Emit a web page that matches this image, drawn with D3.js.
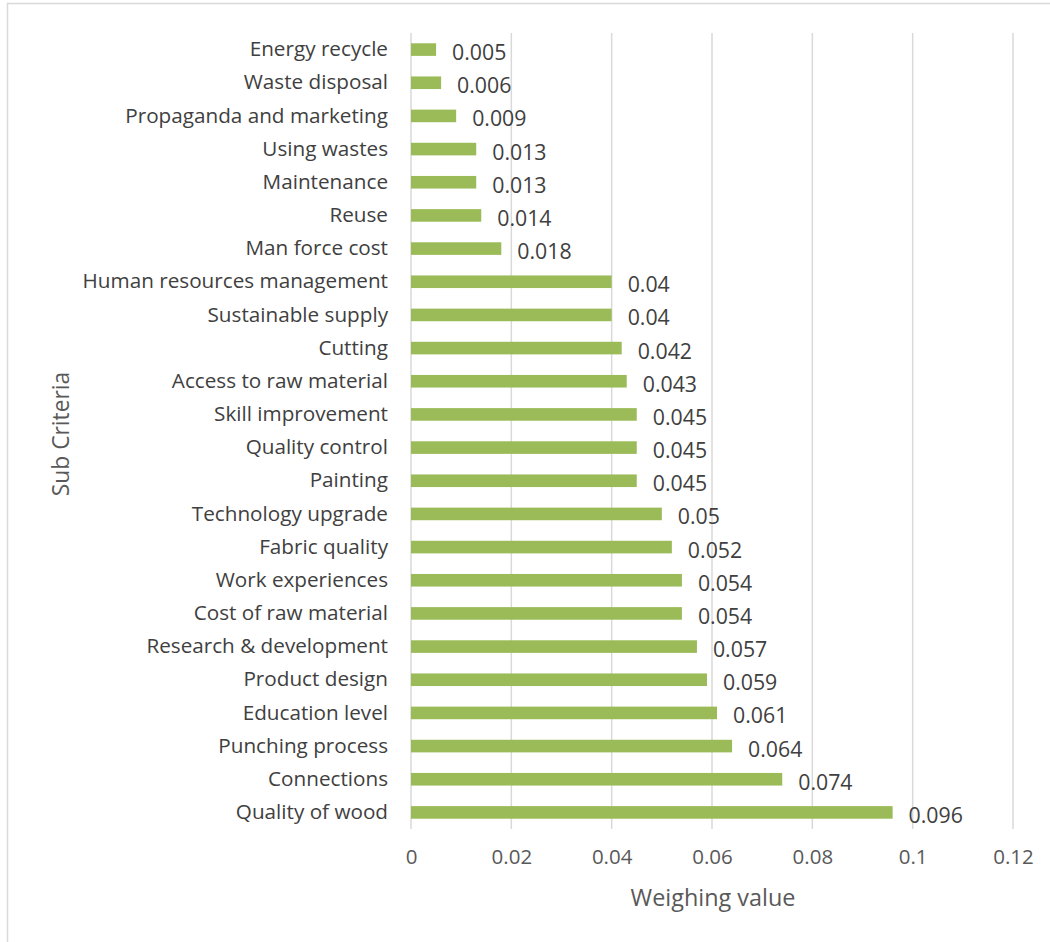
<!DOCTYPE html>
<html>
<head>
<meta charset="utf-8">
<script src="https://cdn.jsdelivr.net/npm/d3@7/dist/d3.min.js"></script>
<style>
  html, body { margin: 0; padding: 0; background: #fff; }
  svg { display: block; }
  text { font-family: "Open Sans", "Noto Sans", sans-serif; }
</style>
</head>
<body>
<div id="chart"></div>
<script>
// Sub-criteria weights, listed top to bottom
const categories = [
  "Energy recycle", "Waste disposal", "Propaganda and marketing", "Using wastes",
  "Maintenance", "Reuse", "Man force cost", "Human resources management",
  "Sustainable supply", "Cutting", "Access to raw material", "Skill improvement",
  "Quality control", "Painting", "Technology upgrade", "Fabric quality",
  "Work experiences", "Cost of raw material", "Research & development", "Product design",
  "Education level", "Punching process", "Connections", "Quality of wood"
];
const weights = [
  0.005, 0.006, 0.009, 0.013,
  0.013, 0.014, 0.018, 0.04,
  0.04, 0.042, 0.043, 0.045,
  0.045, 0.045, 0.05, 0.052,
  0.054, 0.054, 0.057, 0.059,
  0.061, 0.064, 0.074, 0.096
];
const xTicks = [0, 0.02, 0.04, 0.06, 0.08, 0.1, 0.12];
const xTitle = "Weighing value";
const yTitle = "Sub Criteria";

const W = 1050, H = 942;
const plot = { left: 411, right: 1013, top: 33, bottom: 829 };

const svg = d3.select("#chart").append("svg")
  .attr("width", W).attr("height", H);

// outer chart frame
svg.append("rect")
  .attr("x", 7.5).attr("y", 3.5)
  .attr("width", W + 10).attr("height", H + 10)
  .attr("fill", "#fff").attr("stroke", "#d9d9d9").attr("stroke-width", 1.5);

const x = d3.scaleLinear().domain([0, 0.12]).range([plot.left, plot.right]);
const y = d3.scaleBand().domain(categories)
  .range([plot.top, plot.bottom])
  .paddingInner(0.62).paddingOuter(0.31);

// vertical gridlines
svg.append("g").selectAll("line").data(xTicks).join("line")
  .attr("x1", d => x(d)).attr("x2", d => x(d))
  .attr("y1", plot.top).attr("y2", plot.bottom)
  .attr("stroke", "#d9d9d9").attr("stroke-width", 1.5);

// bottom axis tick labels
const xAxis = d3.axisBottom(x).tickValues(xTicks).tickSize(0).tickPadding(0)
  .tickFormat(d => String(+d.toFixed(2)));
const gx = svg.append("g").attr("transform", `translate(0,${plot.bottom + 20})`).call(xAxis);
gx.select(".domain").remove();
gx.selectAll("text")
  .attr("font-size", 20.5).attr("fill", "#595959")
  .attr("font-family", "'Open Sans', sans-serif");

// left axis category labels
const yAxis = d3.axisLeft(y).tickSize(0).tickPadding(0);
const gy = svg.append("g").attr("transform", `translate(${plot.left - 23},0)`).call(yAxis);
gy.select(".domain").remove();
gy.selectAll("text")
  .attr("font-size", 20.7).attr("fill", "#404040")
  .attr("font-family", "'Open Sans', sans-serif");

// bars
const rows = categories.map((c, i) => ({ c, v: weights[i] }));
svg.append("g").selectAll("rect").data(rows).join("rect")
  .attr("x", x(0))
  .attr("y", d => y(d.c))
  .attr("width", d => x(d.v) - x(0))
  .attr("height", y.bandwidth())
  .attr("fill", "#9bbb59");

// value labels
svg.append("g").selectAll("text").data(rows).join("text")
  .attr("x", d => x(d.v) + 16)
  .attr("y", d => y(d.c) + y.bandwidth() / 2 + 3)
  .attr("dy", "0.35em")
  .attr("font-size", 21.3).attr("fill", "#404040")
  .text(d => String(d.v));

// axis titles
svg.append("text")
  .attr("x", (plot.left + plot.right) / 2 + 1).attr("y", 898)
  .attr("dy", "0.35em").attr("text-anchor", "middle")
  .attr("font-size", 23.4).attr("fill", "#595959")
  .text(xTitle);

svg.append("text")
  .attr("transform", `translate(61,${(plot.top + plot.bottom) / 2 + 3}) rotate(-90)`)
  .attr("dy", "0.35em").attr("text-anchor", "middle")
  .attr("font-size", 22.8).attr("fill", "#595959")
  .text(yTitle);
</script>
</body>
</html>
